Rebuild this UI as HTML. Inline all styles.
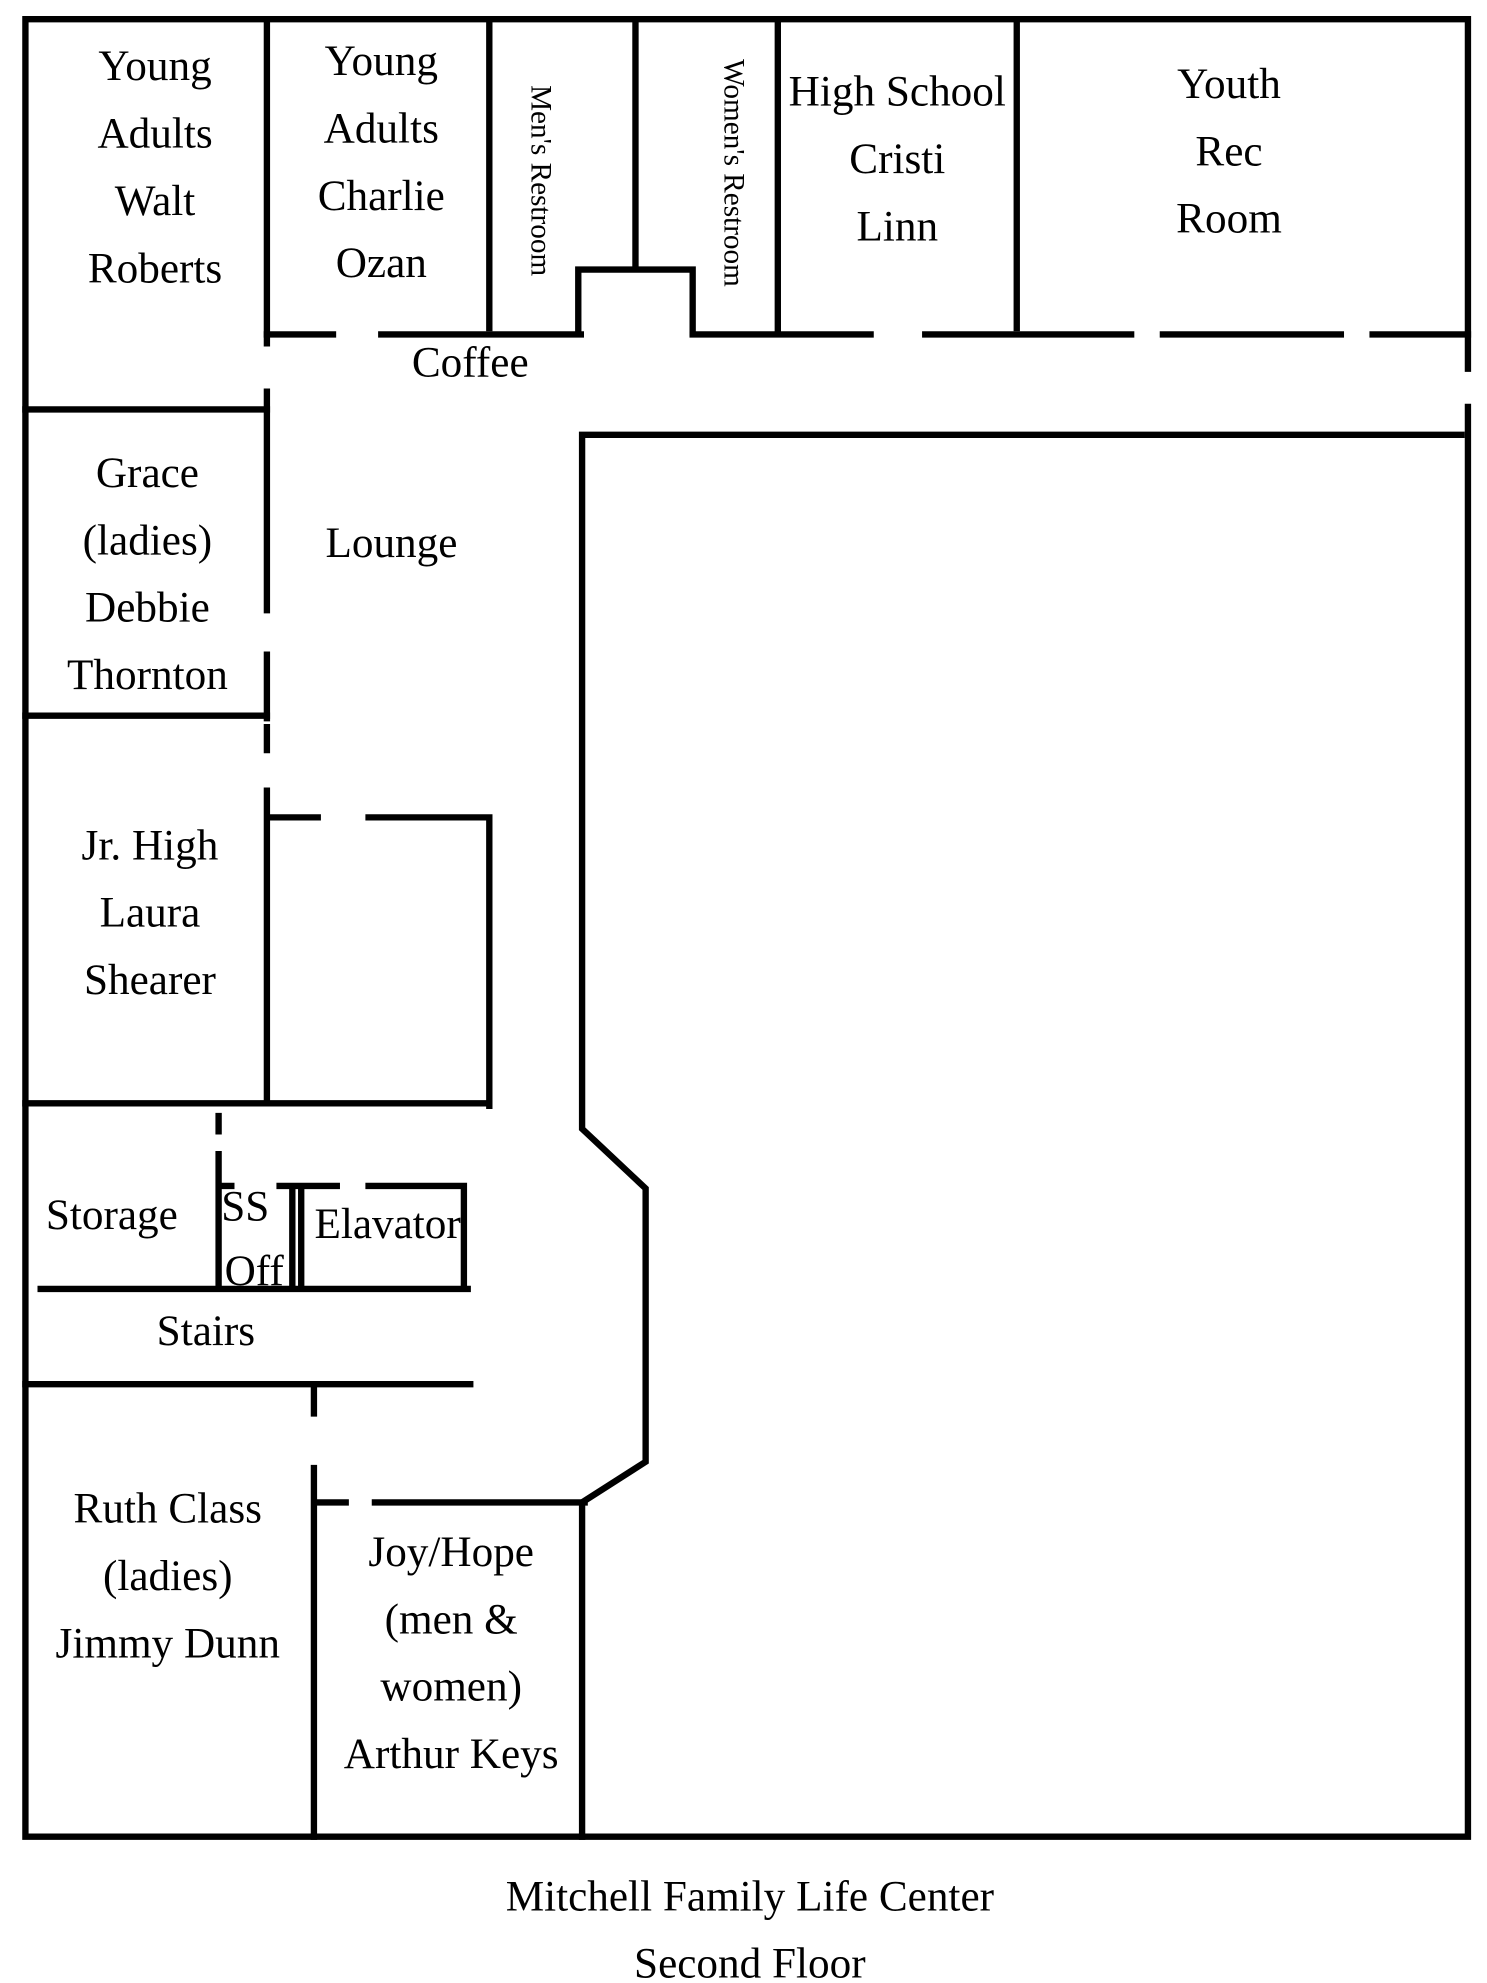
<!DOCTYPE html>
<html><head><style>html,body{margin:0;padding:0;background:#fff}svg{display:block}</style></head>
<body>
<svg width="1487" height="1983" viewBox="0 0 1170 1560" xmlns="http://www.w3.org/2000/svg">
<rect width="1170" height="1560" fill="#fff"/>
<g stroke="#000" stroke-width="5" fill="none" stroke-linecap="square">
<path d="M20 15H1155M20 15V1445H1155M1155 15V290M1155 320V1445"/>
<path d="M210 15V270M210 308V480M210 515V565M210 572V590M210 622V865"/>
<path d="M20 322H210M20 563H210M20 868H385"/>
<path d="M385 15V258M500 15V212M455 212H545M455 212V262M545 212V262M612 15V262M800 15V258"/>
<path d="M210 263H262M300 263H457M545 263H685M728 263H890M915 263H1055M1080 263H1155"/>
<path d="M458 342H1150M458 342V888L508 935V1150L458 1182V1445"/>
<path d="M213 643H250M290 643H385V870"/>
<path d="M172 878V890M172 908V1012M172 933H182M230 933V1012M237 933V1012M220 933H232M237 933H265M290 933H365V1012"/>
<path d="M32 1014H368M20 1089H370"/>
<path d="M247 1092V1112M247 1155V1445M247 1182H272M295 1182H460"/>
</g>
<g font-family="Liberation Serif, serif" font-size="34" text-anchor="middle" fill="#000">
<text x="122" y="63">Young</text><text x="122" y="116">Adults</text><text x="122" y="169">Walt</text><text x="122" y="222">Roberts</text>
<text x="300" y="59">Young</text><text x="300" y="112">Adults</text><text x="300" y="165">Charlie</text><text x="300" y="218">Ozan</text>
<text x="706" y="83">High School</text><text x="706" y="136">Cristi</text><text x="706" y="189">Linn</text>
<text x="967" y="77">Youth</text><text x="967" y="130">Rec</text><text x="967" y="183">Room</text>
<text x="370" y="296">Coffee</text>
<text x="116" y="383">Grace</text><text x="116" y="436">(ladies)</text><text x="116" y="489">Debbie</text><text x="116" y="542">Thornton</text>
<text x="308" y="438">Lounge</text>
<text x="118" y="676">Jr. High</text><text x="118" y="729">Laura</text><text x="118" y="782">Shearer</text>
<text x="88" y="967">Storage</text>
<text x="193" y="960">SS</text><text x="200" y="1011">Off</text>
<text x="305" y="974">Elavator</text>
<text x="162" y="1058">Stairs</text>
<text x="132" y="1198">Ruth Class</text><text x="132" y="1251">(ladies)</text><text x="132" y="1304">Jimmy Dunn</text>
<text x="355" y="1232">Joy/Hope</text><text x="355" y="1285">(men &amp;</text><text x="355" y="1338">women)</text><text x="355" y="1391">Arthur Keys</text>
<text x="590" y="1503">Mitchell Family Life Center</text>
<text x="590" y="1556">Second Floor</text>
</g>
<g font-family="Liberation Serif, serif" font-size="23" text-anchor="middle" fill="#000">
<text transform="translate(418,142) rotate(90)">Men's Restroom</text>
<text transform="translate(570,136) rotate(90)">Women's Restroom</text>
</g>
</svg>
</body></html>
